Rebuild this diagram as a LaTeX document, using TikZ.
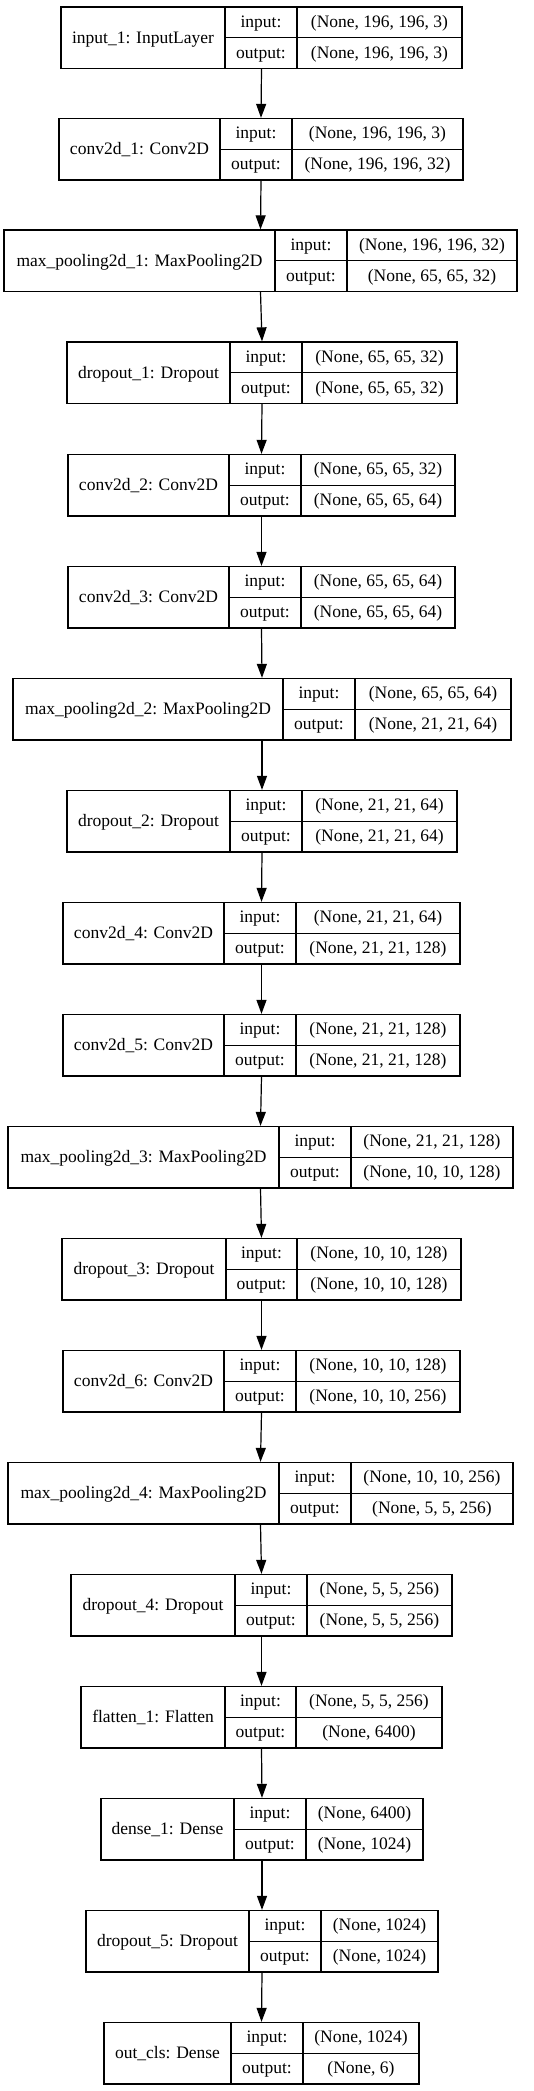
\documentclass[tikz,border=0pt]{standalone}
\usepackage{fontspec}
\setmainfont{Liberation Serif}
\usetikzlibrary{arrows.meta}
\tikzset{
  box/.style={draw=black, line width=1.3pt, rectangle, inner sep=0pt, minimum height=61.5pt, fill=white},
  cell/.style={draw=black, line width=1.3pt},
  lbl/.style={inner sep=0pt, font=\fontsize{17.5}{20}\selectfont, text=black},
  arr/.style={draw=black, line width=1.2pt, -{Triangle[length=14pt,width=10pt]}}
}
% #1 id, #2 top, #3 x0, #4 c1, #5 c2, #6 x1, #7 label, #8 in, #9 out
\newcommand\lyr[9]{%
  \node[box, minimum width={(#6-#3)*1pt}] (#1) at ({(#3+#6)/2},{#2+30.75}) {};
  \draw[cell] ({#4},{#2}) -- ({#4},{#2+61.5});
  \draw[cell] ({#5},{#2}) -- ({#5},{#2+61.5});
  \draw[cell] ({#4},{#2+30.75}) -- ({#6},{#2+30.75});
  \node[lbl, anchor=base] (#1-name) at ({(#3+#4)/2},{#2+30.75+5.5}) {#7};
  \node[lbl, anchor=base] (#1-ik) at ({(#4+#5)/2},{#2+15.4+5}) {input:};
  \node[lbl, anchor=base] (#1-ok) at ({(#4+#5)/2},{#2+46.1+5}) {output:};
  \node[lbl, anchor=base] (#1-iv) at ({(#5+#6)/2},{#2+15.4+5}) {#8};
  \node[lbl, anchor=base] (#1-ov) at ({(#5+#6)/2},{#2+46.1+5}) {#9};
}
\begin{document}
\begin{tikzpicture}[x=1pt, y=-1pt]
\fill[white] (0,0) rectangle (533,2091);
\useasboundingbox (0,0) rectangle (533,2091);
\lyr{b1}{7}{61}{225}{297}{462}{input\_1: InputLayer}{(None, 196, 196, 3)}{(None, 196, 196, 3)}
\lyr{b2}{118.5}{59}{220}{292}{463}{conv2d\_1: Conv2D}{(None, 196, 196, 3)}{(None, 196, 196, 32)}
\lyr{b3}{230}{4}{275}{347}{517}{max\_pooling2d\_1: MaxPooling2D}{(None, 196, 196, 32)}{(None, 65, 65, 32)}
\lyr{b4}{342}{67}{230}{302}{457}{dropout\_1: Dropout}{(None, 65, 65, 32)}{(None, 65, 65, 32)}
\lyr{b5}{454.5}{68}{229}{301}{455}{conv2d\_2: Conv2D}{(None, 65, 65, 32)}{(None, 65, 65, 64)}
\lyr{b6}{566.5}{68}{229}{301}{455}{conv2d\_3: Conv2D}{(None, 65, 65, 64)}{(None, 65, 65, 64)}
\lyr{b7}{678.5}{13}{283}{355}{511}{max\_pooling2d\_2: MaxPooling2D}{(None, 65, 65, 64)}{(None, 21, 21, 64)}
\lyr{b8}{790.5}{67}{230}{302}{457}{dropout\_2: Dropout}{(None, 21, 21, 64)}{(None, 21, 21, 64)}
\lyr{b9}{902.5}{63}{224}{296}{460}{conv2d\_4: Conv2D}{(None, 21, 21, 64)}{(None, 21, 21, 128)}
\lyr{b10}{1014.5}{63}{224}{296}{460}{conv2d\_5: Conv2D}{(None, 21, 21, 128)}{(None, 21, 21, 128)}
\lyr{b11}{1126.5}{8}{279}{351}{513}{max\_pooling2d\_3: MaxPooling2D}{(None, 21, 21, 128)}{(None, 10, 10, 128)}
\lyr{b12}{1238.5}{62}{226}{297}{461}{dropout\_3: Dropout}{(None, 10, 10, 128)}{(None, 10, 10, 128)}
\lyr{b13}{1350.5}{63}{224}{296}{460}{conv2d\_6: Conv2D}{(None, 10, 10, 128)}{(None, 10, 10, 256)}
\lyr{b14}{1462.5}{8}{279}{351}{513}{max\_pooling2d\_4: MaxPooling2D}{(None, 10, 10, 256)}{(None, 5, 5, 256)}
\lyr{b15}{1574.5}{71}{235}{307}{452}{dropout\_4: Dropout}{(None, 5, 5, 256)}{(None, 5, 5, 256)}
\lyr{b16}{1686.5}{81}{225}{296}{442}{flatten\_1: Flatten}{(None, 5, 5, 256)}{(None, 6400)}
\lyr{b17}{1798.5}{101}{234}{306}{423}{dense\_1: Dense}{(None, 6400)}{(None, 1024)}
\lyr{b18}{1910.5}{86}{249}{321}{438}{dropout\_5: Dropout}{(None, 1024)}{(None, 1024)}
\lyr{b19}{2022.5}{104}{231}{303}{419}{out\_cls: Dense}{(None, 1024)}{(None, 6)}
\foreach \a/\b in {b1/b2,b2/b3,b3/b4,b4/b5,b5/b6,b6/b7,b7/b8,b8/b9,b9/b10,b10/b11,b11/b12,b12/b13,b13/b14,b14/b15,b15/b16,b16/b17,b17/b18,b18/b19}
  \draw[arr] (\a.south) -- (\b.north);
\end{tikzpicture}
\end{document}
